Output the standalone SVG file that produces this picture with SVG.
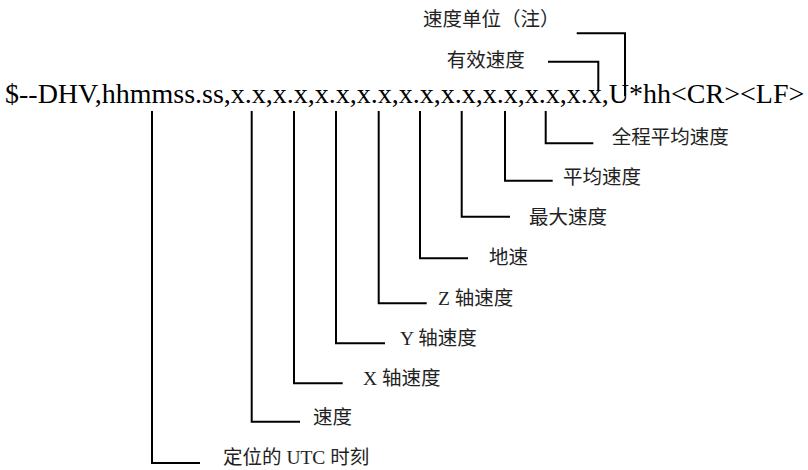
<svg xmlns="http://www.w3.org/2000/svg" width="808" height="470" viewBox="0 0 808 470">
<style>
.main{font-family:"Liberation Serif","Noto Sans CJK SC",serif;font-size:28px;fill:#000}
.lbl{font-family:"Liberation Serif","Noto Sans CJK SC",serif;font-size:19.5px;fill:#222}
.con{fill:none;stroke:#000;stroke-width:2}
</style>
<rect width="808" height="470" fill="#fff"/>
<g id="sentence"><text class="main" x="5" y="103">$--DHV,hhmmss.ss,x.x,x.x,x.x,x.x,x.x,x.x,x.x,x.x,x.x,U*hh&lt;CR&gt;&lt;LF&gt;</text></g>
<g id="connectors">
<path class="con" d="M152,111V463H200"/>
<path class="con" d="M251.7,111V421.7H300"/>
<path class="con" d="M294,111V383.3H342.7"/>
<path class="con" d="M336,111V343.3H385"/>
<path class="con" d="M378.7,111V303.3H426.7"/>
<path class="con" d="M420,111V258.3H468"/>
<path class="con" d="M461.7,111V216.7H510"/>
<path class="con" d="M505,111V180.7H552.7"/>
<path class="con" d="M545.7,111V143.3H593.3"/>
<path class="con" d="M548,61.7H598.3V90"/>
<path class="con" d="M576.7,33.3H625V96"/>
</g>
<g id="unit"><text class="lbl" x="423" y="25.7">速度单位（注）</text></g>
<g id="valid"><text class="lbl" x="446.7" y="66.7">有效速度</text></g>
<g id="overall-avg"><text class="lbl" x="611.7" y="144.4">全程平均速度</text></g>
<g id="avg"><text class="lbl" x="563" y="184.4">平均速度</text></g>
<g id="max"><text class="lbl" x="529" y="224.4">最大速度</text></g>
<g id="ground"><text class="lbl" x="489" y="264.4">地速</text></g>
<g id="z"><text class="lbl" x="438" y="305.4">Z 轴速度</text></g>
<g id="y"><text class="lbl" x="400" y="345.4">Y 轴速度</text></g>
<g id="x"><text class="lbl" x="363" y="385.4">X 轴速度</text></g>
<g id="speed"><text class="lbl" x="313" y="424">速度</text></g>
<g id="utc"><text class="lbl" x="223" y="464">定位的 UTC 时刻</text></g>
</svg>
